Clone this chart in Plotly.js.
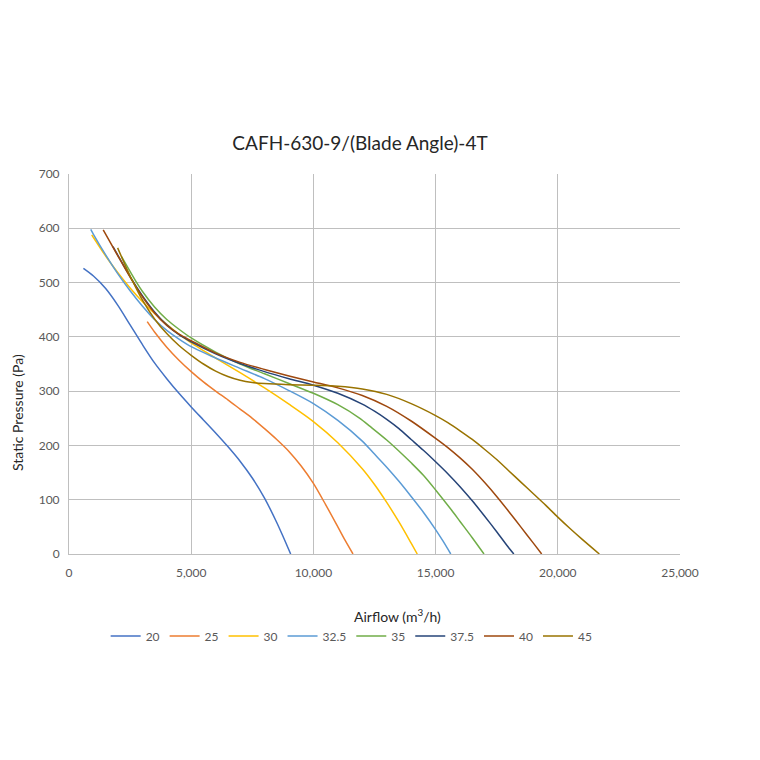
<!DOCTYPE html>
<html>
<head>
<meta charset="utf-8">
<script src="https://cdn.plot.ly/plotly-3.0.1.min.js"></script>
<style>
  body { margin: 0; background: #ffffff; }
  #chart { width: 760px; height: 760px; }
</style>
</head>
<body>
<div id="chart"></div>
<script>
// CAFH-630-9 fan curves, one series per blade angle
const bladeAngles = ['20', '25', '30', '32.5', '35', '37.5', '40', '45'];
const lineColors = ['#4472C4', '#ED7D31', '#FFC000', '#5B9BD5', '#70AD47', '#264478', '#9E480E', '#997300'];

// airflow (m3/h) and static pressure (Pa)
const flow20 = [590, 1000, 1500, 2000, 2500, 3000, 3500, 4000, 4500, 5000, 5500, 6000, 6500, 7000, 7500, 8000, 8500, 8800, 9070];
const pres20 = [526, 512, 489, 458, 422, 386, 352, 323, 296, 271, 247, 223, 198, 171, 140, 103, 58, 28, 0];

const flow25 = [3200, 3500, 4000, 4500, 5000, 5500, 6000, 6500, 7000, 7500, 8000, 8500, 9000, 9500, 10000, 10500, 11000, 11300, 11620];
const pres25 = [428, 409, 381, 357, 336, 317, 300, 284, 267, 250, 231, 211, 189, 162, 130, 91, 50, 25, 0];

const flow30 = [930, 1000, 1500, 2000, 2500, 3000, 3500, 4000, 4500, 5000, 6000, 7000, 8000, 9000, 10000, 11000, 12000, 12500, 13000, 13500, 14000, 14250];
const pres30 = [588, 583, 549, 518, 490, 465, 443, 423, 405, 389, 361, 334, 306, 276, 244, 205, 157, 128, 95, 59, 20, 0];

const flow325 = [890, 1000, 1500, 2000, 2500, 3000, 3500, 4000, 4500, 5000, 6000, 7000, 8000, 9000, 10000, 11000, 12000, 12500, 13000, 13500, 14000, 14500, 15000, 15300, 15620];
const pres325 = [598, 589, 551, 516, 485, 457, 432, 412, 396, 382, 361, 342, 323, 301, 277, 246, 208, 184, 160, 134, 106, 77, 45, 24, 0];

const flow35 = [2150, 2770, 3000, 3500, 4000, 4500, 5000, 6000, 7000, 8000, 9000, 10000, 11000, 11900, 12320, 13000, 13680, 14000, 14500, 15000, 15650, 16000, 16500, 16980];
const pres35 = [548, 500, 484, 455, 432, 414, 398, 372, 350, 332, 314, 296, 275, 250, 235, 210, 182, 168, 145, 118, 81, 60, 30, 0];

const flow375 = [1800, 2000, 2500, 3000, 3500, 4000, 4500, 5000, 6000, 7000, 8000, 9000, 10000, 11000, 12000, 12500, 13000, 13500, 14000, 14500, 15000, 15500, 16000, 16500, 17000, 17500, 18000, 18200];
const pres375 = [566, 550, 511, 476, 446, 422, 404, 391, 369, 351, 336, 323, 311, 296, 276, 263, 248, 231, 211, 191, 170, 148, 124, 98, 70, 41, 11, 0];

const flow40 = [1400, 2000, 2500, 3000, 3500, 4000, 4500, 5000, 6000, 7000, 8000, 9000, 10000, 11000, 12000, 13000, 14000, 15000, 15500, 16000, 16500, 17000, 17500, 18000, 18500, 19000, 19340];
const pres40 = [597, 549, 510, 474, 444, 421, 405, 393, 370, 353, 340, 328, 317, 306, 292, 272, 245, 213, 196, 177, 156, 132, 106, 78, 49, 20, 0];

const flow45 = [1990, 2300, 2600, 3000, 3500, 4000, 4500, 5000, 5500, 6000, 6500, 7000, 7500, 8000, 9000, 10000, 11000, 12000, 13000, 14000, 15000, 15500, 16000, 16500, 17000, 17500, 18000, 18500, 19000, 19500, 20000, 20500, 21000, 21700];
const pres45 = [564, 532, 503, 468, 433, 406, 384, 366, 350, 337, 327, 320, 316, 314, 312, 311, 309, 304, 294, 277, 255, 242, 227, 211, 193, 174, 153, 132, 111, 90, 68, 47, 27, 0];

const flows = [flow20, flow25, flow30, flow325, flow35, flow375, flow40, flow45];
const pressures = [pres20, pres25, pres30, pres325, pres35, pres375, pres40, pres45];

const xTicks = [0, 5000, 10000, 15000, 20000, 25000];
const yTicks = [0, 100, 200, 300, 400, 500, 600, 700];

const font = 'Lato, "Open Sans", sans-serif';
const textGrey = '#595959';

const traces = bladeAngles.map((angle, i) => ({
    x: flows[i],
    y: pressures[i],
    name: angle,
    type: 'scatter',
    mode: 'lines',
    line: { color: lineColors[i], width: 1.5, shape: 'spline', smoothing: 0.8 },
    hovertemplate: 'Airflow: %{x}<br>Pressure: %{y}<extra>' + angle + '</extra>'
}));

const layout = {
    width: 760,
    height: 760,
    paper_bgcolor: '#ffffff',
    plot_bgcolor: '#ffffff',
    margin: { l: 69, r: 80, t: 174, b: 206 },
    font: { family: font, size: 12, color: textGrey },
    title: {
        text: 'CAFH-630-9/(Blade Angle)-4T',
        font: { family: font, size: 19, color: '#262626' },
        x: 360 / 760,
        xanchor: 'center',
        y: 1 - 143 / 760,
        yanchor: 'middle'
    },
    showlegend: true,
    legend: {
        orientation: 'h',
        x: 0.06,
        xanchor: 'left',
        y: -0.216,
        yanchor: 'middle',
        font: { family: font, size: 12, color: textGrey },
        itemwidth: 30,
        tracegroupgap: 0
    },
    xaxis: {
        range: [0, 25000],
        tickvals: xTicks,
        tickformat: ',d',
        separatethousands: true,
        showgrid: true,
        gridcolor: '#bfbfbf',
        gridwidth: 1,
        zeroline: false,
        showline: true,
        linecolor: '#bfbfbf',
        ticks: '',
        ticklabelstandoff: 8,
        tickfont: { family: font, size: 12, color: textGrey },
        fixedrange: true
    },
    yaxis: {
        range: [0, 700],
        tickvals: yTicks,
        showgrid: true,
        gridcolor: '#bfbfbf',
        gridwidth: 1,
        zeroline: false,
        showline: true,
        linecolor: '#bfbfbf',
        ticks: '',
        ticklabelstandoff: 6,
        tickfont: { family: font, size: 12, color: textGrey },
        fixedrange: true
    },
    annotations: [
        {
            text: 'Airflow (m<sup>3</sup>/h)',
            xref: 'paper', yref: 'paper',
            x: (397 - 69) / 611, y: -(615 - 554) / 380,
            xanchor: 'center', yanchor: 'middle',
            showarrow: false,
            font: { family: font, size: 14, color: '#262626' }
        },
        {
            text: 'Static Pressure (Pa)',
            xref: 'paper', yref: 'paper',
            x: -(69 - 17) / 611, y: (554 - 413) / 380,
            xanchor: 'center', yanchor: 'middle',
            textangle: -90,
            showarrow: false,
            font: { family: font, size: 14, color: '#262626' }
        }
    ]
};

Plotly.newPlot('chart', traces, layout, { displayModeBar: false, staticPlot: true });
</script>
</body>
</html>
